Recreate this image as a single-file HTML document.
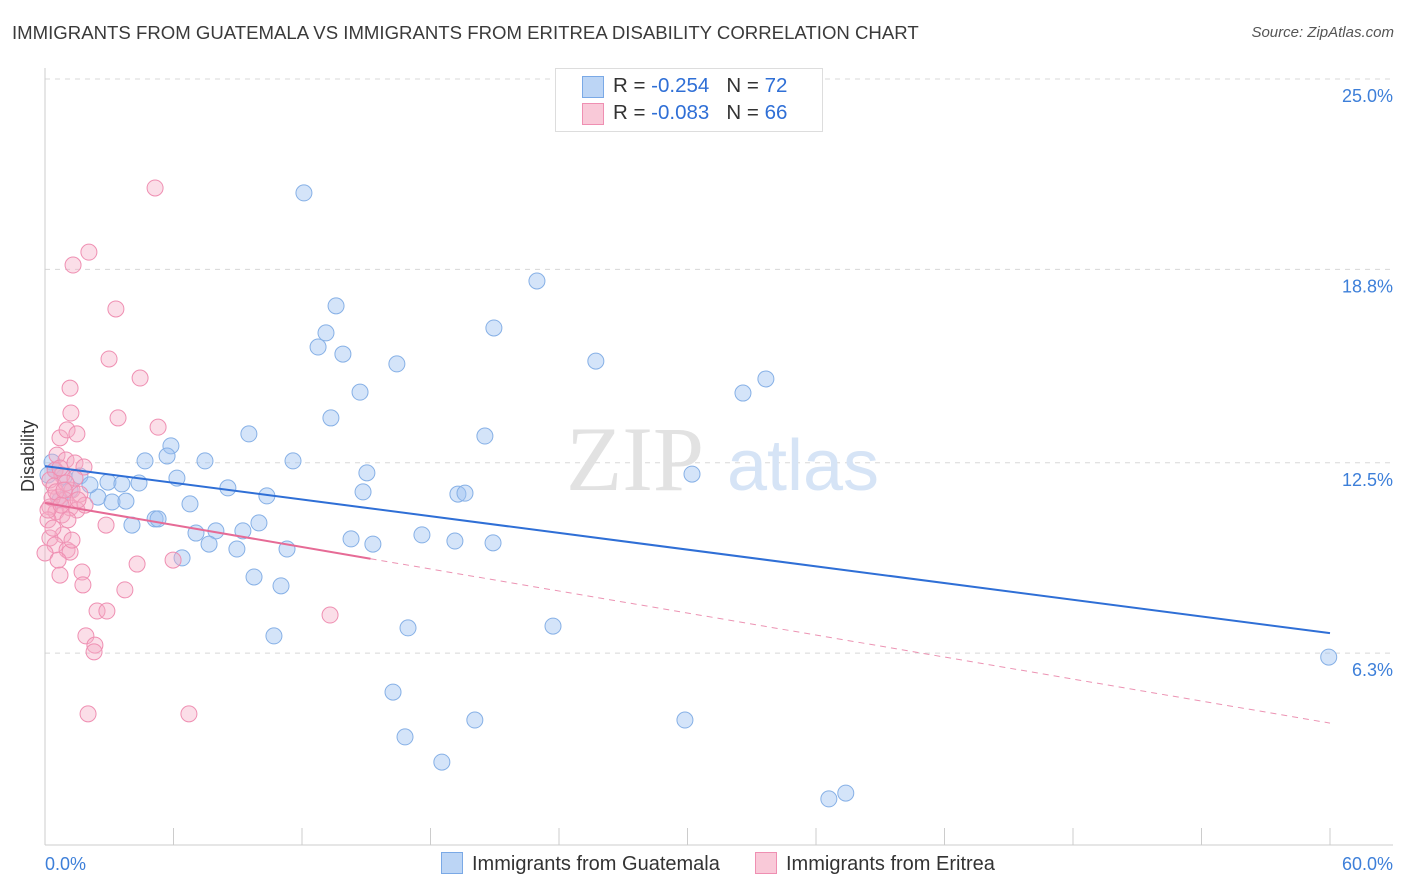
<!DOCTYPE html>
<html><head><meta charset="utf-8">
<style>
body{margin:0;background:#fff;font-family:"Liberation Sans",sans-serif;}
#wrap{position:relative;width:1406px;height:892px;overflow:hidden;}
.t{position:absolute;white-space:nowrap;}
</style></head>
<body>
<div id="wrap">
<div class="t" style="left:12px;top:22px;font-size:18.6px;color:#3a3a3a;">IMMIGRANTS FROM GUATEMALA VS IMMIGRANTS FROM ERITREA DISABILITY CORRELATION CHART</div>
<div class="t" style="right:12px;top:24px;font-size:15px;color:#555;font-style:italic;">Source: ZipAtlas.com</div>
<svg id="svg" width="1406" height="892" style="position:absolute;left:0;top:0"></svg>
</div>
<script>
const yTicks=[25.0,18.8,12.5,6.3];
const yTickLabels=["25.0%","18.8%","12.5%","6.3%"];
const xTickLabels=["0.0%","60.0%"];
const blueX=[12.09,22.97,13.59,20.96,13.12,12.75,13.91,16.43,25.72,33.66,32.59,14.71,13.35,20.54,9.52,5.88,5.70,4.67,7.47,11.58,30.21,15.03,6.16,0.33,0.14,0.89,1.63,2.94,3.59,4.39,8.54,10.36,14.85,19.28,19.61,2.47,3.13,3.78,6.77,9.99,5.14,5.28,4.06,7.98,9.24,7.05,17.6,14.29,15.31,19.14,20.92,7.66,8.96,11.30,6.40,9.76,11.02,16.95,23.72,10.69,16.25,16.81,20.07,29.88,18.53,36.6,37.39,59.94,0.47,1.17,2.10,0.70];
const blueY=[21.29,18.42,17.61,16.89,16.73,16.27,16.04,15.72,15.81,15.23,14.77,14.80,13.96,13.37,13.44,13.05,12.72,12.56,12.56,12.56,12.13,12.17,12.0,12.52,12.10,12.04,12.07,11.87,11.81,11.84,11.68,11.42,11.55,11.48,11.51,11.38,11.22,11.25,11.16,10.54,10.67,10.67,10.47,10.28,10.28,10.21,10.15,10.02,9.85,9.95,9.89,9.85,9.69,9.69,9.40,8.78,8.49,7.12,7.18,6.86,5.03,3.57,4.12,4.12,2.75,1.55,1.74,6.17,12.26,11.61,11.78,11.29];
const pinkX=[5.14,2.05,1.31,3.31,2.99,4.44,1.17,1.21,3.41,5.28,0.70,1.03,1.49,0.56,0.98,1.40,1.82,0.47,0.79,0.23,0.42,1.26,1.63,0.61,0.93,0.23,0.51,1.17,1.49,0.79,0.14,2.85,0.84,0.23,0.47,1.03,1.17,0,0.61,0.70,1.73,4.30,5.98,1.77,3.73,2.43,2.89,13.31,1.91,2.33,2.29,2.01,6.72,0.33,0.14,0.70,1.40,1.07,1.87,0.51,1.26,1.54,0.98,0.37,0.75,0.89];
const pinkY=[21.45,19.36,18.94,17.51,15.88,15.26,14.93,14.12,13.96,13.66,13.31,13.57,13.44,12.75,12.59,12.49,12.36,12.26,12.10,11.94,11.74,11.61,11.48,11.38,11.29,11.06,10.90,11.03,10.96,10.80,10.64,10.47,10.15,10.05,9.82,9.66,9.59,9.56,9.33,8.84,8.94,9.20,9.33,8.52,8.36,7.67,7.67,7.54,6.86,6.56,6.34,4.32,4.32,11.35,10.96,12.33,12.0,10.64,11.12,11.55,9.98,11.29,11.84,10.37,11.12,11.61];
const blueTrend=[12.39,6.95];
const pinkTrend=[11.19,4.02];
const pinkSolidEnd=15.2;

const NS="http://www.w3.org/2000/svg";
const svg=document.getElementById('svg');
const X=v=>45+v*(1285/60);
const Y=v=>79+(25-v)*30.7;
function mk(tag,attrs,parent){const e=document.createElementNS(NS,tag);for(const k in attrs)e.setAttribute(k,attrs[k]);(parent||svg).appendChild(e);return e;}

yTicks.forEach((v,i)=>{
  const g=mk('line',{x1:45,x2:1393,y1:Y(v),y2:Y(v),stroke:'#d8d8d8','stroke-dasharray':'5,5'});
  
  
  const t=mk('text',{x:1393,y:Y(v)+23,'text-anchor':'end','font-size':18,fill:'#3d7fd9','font-family':'Liberation Sans'});
  t.textContent=yTickLabels[i];
  
  
});
const ax=mk('line',{x1:45,x2:45,y1:68,y2:845,stroke:'#ccc'});


const bx=mk('line',{x1:45,x2:1393,y1:845,y2:845,stroke:'#ccc'});


for(let i=0;i<=10;i++){
  const tk=mk('line',{x1:X(i*6),x2:X(i*6),y1:828,y2:845,stroke:'#ccc'});
  
  
}
[[0,'start',45],[1,'end',1393]].forEach(([i,a,x])=>{
  const t=mk('text',{x:x,y:870,'text-anchor':a,'font-size':18,fill:'#3d7fd9','font-family':'Liberation Sans'});
  t.textContent=xTickLabels[i];
  
  
});
const yt=mk('text',{x:34,y:456,'text-anchor':'middle','font-size':18,fill:'#333','font-family':'Liberation Sans',transform:'rotate(-90 34 456)'});
yt.textContent='Disability';



const w1=mk('text',{x:635,y:490,'text-anchor':'middle','font-size':92,fill:'#e2e2e2','font-family':'Liberation Serif'});
w1.textContent='ZIP';


const w2=mk('text',{x:803,y:490,'text-anchor':'middle','font-size':72,fill:'#d6e4f6','font-family':'Liberation Sans'});
w2.textContent='atlas';



blueX.forEach((v,i)=>{
  const c=mk('circle',{cx:X(v),cy:Y(blueY[i]),r:8,fill:'rgba(160,196,242,0.45)',stroke:'#86b0e6','stroke-width':1});
  
  
});
pinkX.forEach((v,i)=>{
  const c=mk('circle',{cx:X(v),cy:Y(pinkY[i]),r:8,fill:'rgba(246,172,198,0.4)',stroke:'#ef8fb2','stroke-width':1});
  
  
});
const bl=mk('line',{x1:X(0),y1:Y(blueTrend[0]),x2:X(60),y2:Y(blueTrend[1]),stroke:'#2f6fd6','stroke-width':2});


const pAt=x=>pinkTrend[0]+(pinkTrend[1]-pinkTrend[0])*x/60;
const pl=mk('line',{x1:X(0),y1:Y(pAt(0)),x2:X(pinkSolidEnd),y2:Y(pAt(pinkSolidEnd)),stroke:'#e66b96','stroke-width':2});


const pd=mk('line',{x1:X(pinkSolidEnd),y1:Y(pAt(pinkSolidEnd)),x2:X(60),y2:Y(pAt(60)),stroke:'#ec93b3','stroke-width':1,'stroke-dasharray':'6,5'});


</script>
<div class="t" style="left:555px;top:68px;width:266px;height:62px;border:1px solid #ddd;background:#fff;font-size:20.5px;color:#333;">
  <div style="position:absolute;left:26px;top:7px;width:20px;height:20px;background:#bcd5f5;border:1px solid #7aa9e6;"></div>
  <div style="position:absolute;left:57px;top:5px;">R = <span style="color:#2f6fd6">-0.254</span>&nbsp;&nbsp;&nbsp;N = <span style="color:#2f6fd6">72</span></div>
  <div style="position:absolute;left:26px;top:34px;width:20px;height:20px;background:#f9c9d8;border:1px solid #ef8fb2;"></div>
  <div style="position:absolute;left:57px;top:32px;">R = <span style="color:#2f6fd6">-0.083</span>&nbsp;&nbsp;&nbsp;N = <span style="color:#2f6fd6">66</span></div>
</div>
<div class="t" style="left:441px;top:852px;font-size:20px;color:#333;">
  <span style="display:inline-block;width:20px;height:20px;background:#bcd5f5;border:1px solid #7aa9e6;vertical-align:-4px;margin-right:9px;"></span>Immigrants from Guatemala</div>
<div class="t" style="left:755px;top:852px;font-size:20px;color:#333;">
  <span style="display:inline-block;width:20px;height:20px;background:#f9c9d8;border:1px solid #ef8fb2;vertical-align:-4px;margin-right:9px;"></span>Immigrants from Eritrea</div>
</body></html>
